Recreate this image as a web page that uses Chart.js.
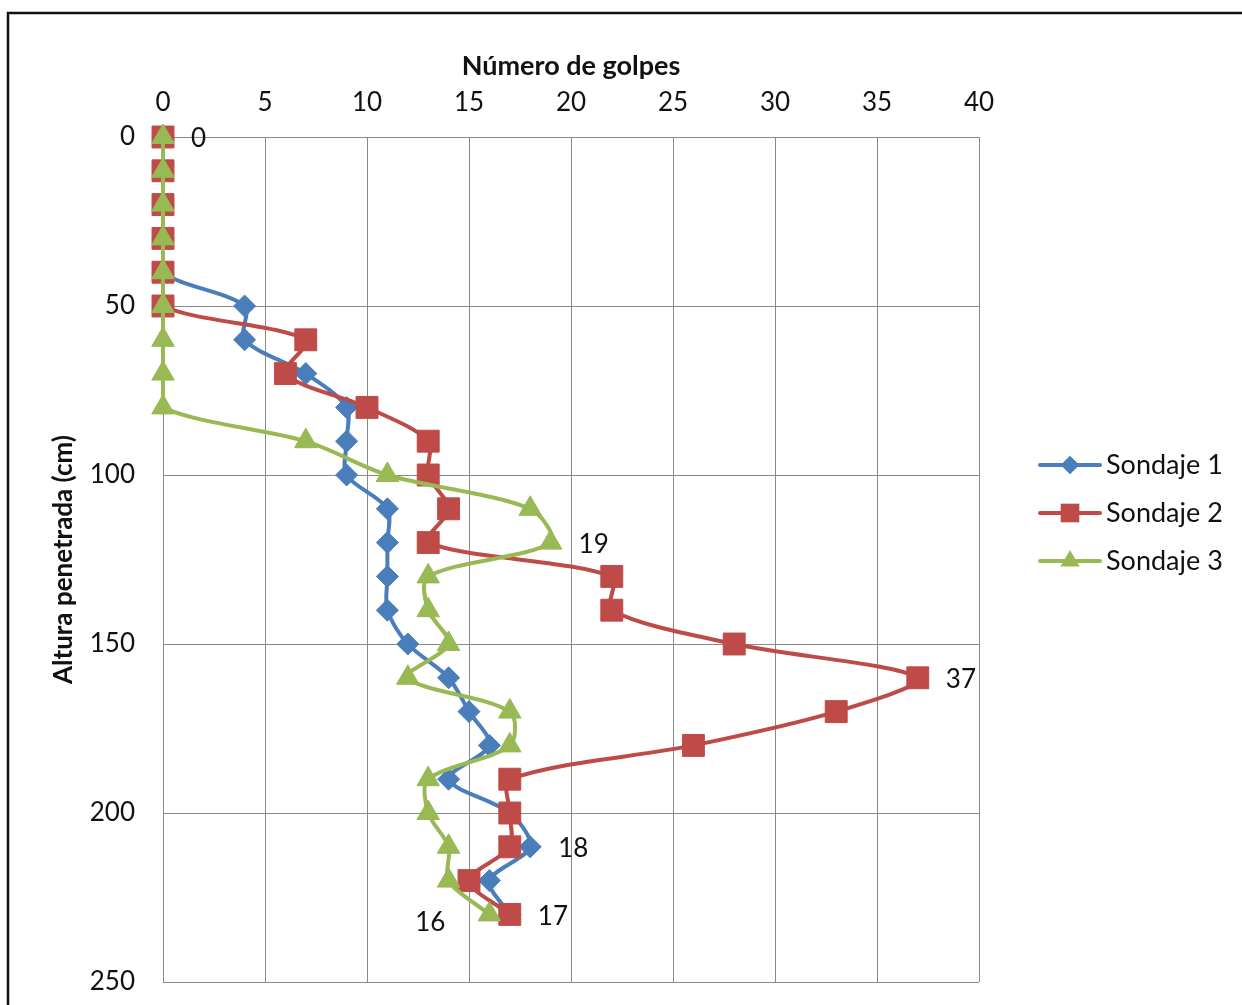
<!DOCTYPE html>
<html>
<head>
<meta charset="utf-8">
<style>
  html, body { margin: 0; padding: 0; background: #fff; }
  #wrap { width: 1242px; height: 1005px; position: relative; }
</style>
<script src="https://cdn.jsdelivr.net/npm/chart.js@4/dist/chart.umd.min.js"></script>
</head>
<body>
<div id="wrap"><canvas id="c" width="1242" height="1005"></canvas></div>
<script>
// Penetration depth (cm) and blow counts per sounding
const depths = [0, 10, 20, 30, 40, 50, 60, 70, 80, 90, 100, 110, 120, 130, 140, 150, 160, 170, 180, 190, 200, 210, 220, 230];
const sondaje1 = [0, 0, 0, 0, 0, 4, 4, 7, 9, 9, 9, 11, 11, 11, 11, 12, 14, 15, 16, 14, 17, 18, 16, 17];
const sondaje2 = [0, 0, 0, 0, 0, 0, 7, 6, 10, 13, 13, 14, 13, 22, 22, 28, 37, 33, 26, 17, 17, 17, 15, 17];
const sondaje3 = [0, 0, 0, 0, 0, 0, 0, 0, 0, 7, 11, 18, 19, 13, 13, 14, 12, 17, 17, 13, 13, 14, 14, 16];
const seriesNames = ['Sondaje 1', 'Sondaje 2', 'Sondaje 3'];
const xTicks = [0, 5, 10, 15, 20, 25, 30, 35, 40];
const yTicks = [0, 50, 100, 150, 200, 250];
// point labels: [series index, point index, side]
const pointLabels = [[0, 0, 'right'], [2, 12, 'right'], [1, 16, 'right'], [0, 21, 'right'], [1, 23, 'right'], [2, 23, 'left']];

const FONT = 'Lato, "Open Sans", sans-serif';
const colors = ['#4A7EBB', '#BE4B48', '#98B954'];
const styles = ['rectRot', 'rect', 'triangle'];
const radii = [11, 15.5, 13];
const allSeries = [sondaje1, sondaje2, sondaje3];

const datasets = allSeries.map((vals, i) => ({
  label: seriesNames[i],
  data: vals.map((v, k) => ({ x: v, y: depths[k] })),
  showLine: true,
  clip: false,
  borderColor: colors[i],
  backgroundColor: colors[i],
  borderWidth: 4,
  pointStyle: styles[i],
  pointRadius: radii[i],
  pointBorderWidth: 1,
  pointBorderColor: colors[i],
  pointBackgroundColor: colors[i],
  tension: 0.3,
  order: 3 - i
}));

const frame = {
  id: 'frame',
  beforeDraw(chart) {
    const ctx = chart.ctx;
    ctx.save();
    ctx.fillStyle = '#fff';
    ctx.fillRect(0, 0, chart.width, chart.height);
    ctx.strokeStyle = '#111';
    ctx.lineWidth = 2.5;
    ctx.beginPath();
    ctx.moveTo(8, 1010);
    ctx.lineTo(8, 13);
    ctx.lineTo(1250, 13);
    ctx.stroke();
    ctx.restore();
  }
};

const valueLabels = {
  id: 'valueLabels',
  afterDatasetsDraw(chart) {
    const ctx = chart.ctx;
    ctx.save();
    ctx.font = '26px ' + FONT;
    ctx.fillStyle = '#111';
    ctx.textBaseline = 'middle';
    pointLabels.forEach(([s, k, side]) => {
      const el = chart.getDatasetMeta(s).data[k];
      const txt = String(allSeries[s][k]);
      if (side === 'right') {
        ctx.textAlign = 'left';
        ctx.fillText(txt, el.x + 28, el.y + 2);
      } else {
        ctx.textAlign = 'right';
        ctx.fillText(txt, el.x - 44, el.y + 8);
      }
    });
    ctx.restore();
  }
};

const sideLegend = {
  id: 'sideLegend',
  afterDraw(chart) {
    const ctx = chart.ctx;
    ctx.save();
    const x0 = 1040, x1 = 1100, ys = [465, 513, 561];
    chart.data.datasets.forEach((ds, i) => {
      const y = ys[i];
      ctx.strokeStyle = ds.borderColor;
      ctx.lineWidth = 4;
      ctx.lineCap = 'round';
      ctx.beginPath();
      ctx.moveTo(x0, y);
      ctx.lineTo(x1, y);
      ctx.stroke();
      ctx.fillStyle = ds.backgroundColor;
      Chart.helpers.drawPoint(ctx, { pointStyle: ds.pointStyle, radius: ds.pointRadius * 0.85, borderWidth: 0, rotation: 0 }, (x0 + x1) / 2, y);
      ctx.fillStyle = '#111';
      ctx.font = '27px ' + FONT;
      ctx.textAlign = 'left';
      ctx.textBaseline = 'middle';
      ctx.fillText(ds.label, 1106, y);
    });
    ctx.restore();
  }
};

new Chart(document.getElementById('c'), {
  type: 'scatter',
  data: { datasets },
  plugins: [frame, valueLabels, sideLegend],
  options: {
    responsive: false,
    animation: false,
    layout: { padding: { left: 48, top: 50, right: 263, bottom: 23 } },
    plugins: { legend: { display: false }, tooltip: { enabled: false } },
    scales: {
      x: {
        type: 'linear',
        position: 'top',
        min: 0, max: 40,
        afterBuildTicks(scale) { scale.ticks = xTicks.map(v => ({ value: v })); },
        afterFit(scale) { scale.height = 137 - 50; scale.paddingLeft = 0; scale.paddingRight = 0; },
        grid: { color: '#8a8a8a', lineWidth: 1, drawTicks: false },
        border: { color: '#8a8a8a', width: 1 },
        ticks: { color: '#111', font: { family: FONT, size: 26 }, padding: 19, maxRotation: 0 },
        title: { display: true, text: 'Número de golpes', color: '#111', font: { family: FONT, size: 27, weight: 'bold' }, padding: { top: 0, bottom: 0 } }
      },
      y: {
        type: 'linear',
        reverse: true,
        min: 0, max: 250,
        afterBuildTicks(scale) { scale.ticks = yTicks.map(v => ({ value: v })); },
        afterFit(scale) { scale.width = 163 - 48; scale.paddingTop = 0; scale.paddingBottom = 0; },
        grid: { color: '#8a8a8a', lineWidth: 1, drawTicks: false },
        border: { color: '#8a8a8a', width: 1 },
        ticks: { color: '#111', font: { family: FONT, size: 26 }, padding: 28 },
        title: { display: true, text: 'Altura penetrada (cm)', color: '#111', font: { family: FONT, size: 26, weight: 'bold' }, padding: { top: 0, bottom: 0 } }
      }
    }
  }
});
</script>
</body>
</html>
